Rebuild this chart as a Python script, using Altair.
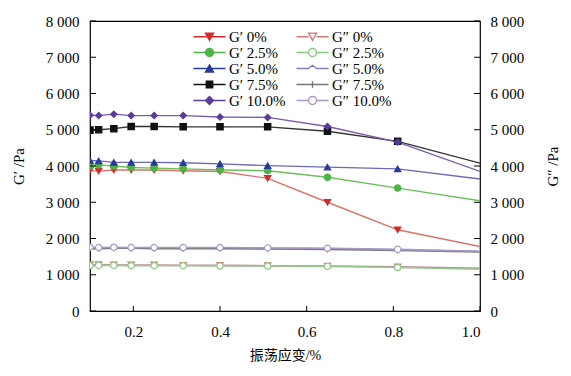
import altair as alt
import pandas as pd

strain = [0.1, 0.12, 0.155, 0.195, 0.248, 0.315, 0.4, 0.51, 0.648, 0.81, 1.0]

gp_0 = [3880, 3860, 3890, 3890, 3890, 3870, 3850, 3660, 3000, 2240, 1780]
gp_25 = [4000, 4030, 4000, 3960, 3940, 3920, 3890, 3870, 3690, 3390, 3040]
gp_50 = [4150, 4140, 4100, 4100, 4100, 4090, 4060, 4010, 3970, 3920, 3640]
gp_75 = [4990, 5000, 5030, 5090, 5090, 5080, 5080, 5080, 4960, 4680, 4080]
gp_100 = [5400, 5390, 5430, 5390, 5390, 5390, 5350, 5340, 5090, 4660, 3850]

gpp_0 = [1280, 1280, 1270, 1270, 1270, 1260, 1260, 1250, 1240, 1220, 1180]
gpp_25 = [1250, 1260, 1260, 1250, 1250, 1250, 1240, 1240, 1230, 1200, 1150]
gpp_50 = [1740, 1740, 1740, 1740, 1740, 1740, 1740, 1730, 1720, 1690, 1640]
gpp_75 = [1720, 1720, 1730, 1730, 1720, 1720, 1720, 1710, 1700, 1670, 1630]
gpp_100 = [1760, 1750, 1760, 1750, 1750, 1750, 1750, 1740, 1730, 1700, 1650]

gp_names = ["G′ 0%", "G′ 2.5%", "G′ 5.0%", "G′ 7.5%", "G′ 10.0%"]
gpp_names = ["G″ 0%", "G″ 2.5%", "G″ 5.0%", "G″ 7.5%", "G″ 10.0%"]

y_ticks = [0, 1000, 2000, 3000, 4000, 5000, 6000, 7000, 8000]
x_ticks = [0.2, 0.4, 0.6, 0.8, 1.0]

# legend fills column by column
order = gp_names + gpp_names

line_col = {
    "G′ 0%": "#e07068", "G″ 0%": "#b88a98",
    "G′ 2.5%": "#6cc05c", "G″ 2.5%": "#98c890",
    "G′ 5.0%": "#6a6ab8", "G″ 5.0%": "#8a86b8",
    "G′ 7.5%": "#333333", "G″ 7.5%": "#7a7a7a",
    "G′ 10.0%": "#7a5cb0", "G″ 10.0%": "#a898c8",
}
mark_col = {
    "G′ 0%": "#d42a2a", "G″ 0%": "#d07a7a",
    "G′ 2.5%": "#4cb444", "G″ 2.5%": "#8cc884",
    "G′ 5.0%": "#2a3a9a", "G″ 5.0%": "#8080c0",
    "G′ 7.5%": "#111111", "G″ 7.5%": "#777777",
    "G′ 10.0%": "#5a3c9c", "G″ 10.0%": "#a898cc",
}
fill_col = {k: (mark_col[k] if k.startswith("G′") else "#ffffff") for k in order}
chart_shape = {
    "G′ 0%": "triangle-down", "G″ 0%": "triangle-down",
    "G′ 2.5%": "circle", "G″ 2.5%": "circle",
    "G′ 5.0%": "triangle-up", "G″ 5.0%": "M-1,0.5L0,-0.7L1,0.5",
    "G′ 7.5%": "square", "G″ 7.5%": "M0,-1V1",
    "G′ 10.0%": "diamond", "G″ 10.0%": "circle",
}
full = "M-4,0H4"
split = "M-4,0H-1M1,0H4"
legend_shape = {
    "G′ 0%": full + "M-1,-0.9L1,-0.9L0,0.9Z",
    "G″ 0%": split + "M-1,-0.9L1,-0.9L0,0.9Z",
    "G′ 2.5%": full + "M-1,0A1,1 0 1,0 1,0A1,1 0 1,0 -1,0Z",
    "G″ 2.5%": split + "M-1,0A1,1 0 1,0 1,0A1,1 0 1,0 -1,0Z",
    "G′ 5.0%": full + "M-1,0.9L1,0.9L0,-0.9Z",
    "G″ 5.0%": "M-4,0H-1L0,-0.8L1,0H4",
    "G′ 7.5%": full + "M-0.8,-0.8H0.8V0.8H-0.8Z",
    "G″ 7.5%": "M-4,0H4M0,-0.8V0.8",
    "G′ 10.0%": full + "M0,-1L1,0L0,1L-1,0Z",
    "G″ 10.0%": split + "M-1,0A1,1 0 1,0 1,0A1,1 0 1,0 -1,0Z",
}

rows = []
for name, vals in zip(gp_names + gpp_names,
                      [gp_0, gp_25, gp_50, gp_75, gp_100, gpp_0, gpp_25, gpp_50, gpp_75, gpp_100]):
    for s, v in zip(strain, vals):
        rows.append({"strain": s, "value": v, "series": name,
                     "kind": "Gp" if name.startswith("G′") else "Gpp"})
df = pd.DataFrame(rows)
df_y = pd.DataFrame({"t": y_ticks})
df_x = pd.DataFrame({"t": x_ticks})

LABEL_FONT = "Liberation Serif"
xs = alt.Scale(domain=[0.1, 1.0], nice=False, zero=False)
ys = alt.Scale(domain=[0, 8000], nice=False)
num_expr = "replace(format(datum.value, ','), ',', ' ')"

def sc(d):
    return alt.Scale(domain=order, range=[d[k] for k in order])

base = alt.Chart(df)

left_axis = alt.Axis(orient="left", values=y_ticks, labelExpr=num_expr, ticks=False, domain=False,
                     grid=False, labelPadding=11, labelFont=LABEL_FONT, labelFontSize=15,
                     labelColor="#000", title="G′ /Pa", titleFont=LABEL_FONT, titleFontSize=15,
                     titleFontWeight="normal", titleColor="#000", titleAngle=270, titleX=-72,
                     titleY=145, titleAlign="center", titleBaseline="middle")
right_axis = alt.Axis(orient="right", values=y_ticks, labelExpr=num_expr, ticks=False, domain=False,
                      grid=False, labelPadding=10, labelFont=LABEL_FONT, labelFontSize=15,
                      labelColor="#000", title="G″ /Pa", titleFont=LABEL_FONT, titleFontSize=15,
                      titleFontWeight="normal", titleColor="#000", titleAngle=270, titleX=72,
                      titleY=145, titleAlign="center", titleBaseline="middle")
x_axis = alt.Axis(values=x_ticks, format=".1f", ticks=False, domain=False, grid=False,
                  labelPadding=13, labelFont=LABEL_FONT, labelFontSize=15, labelColor="#000",
                  title="振荡应变/%", titleFont="Liberation Serif, Noto Sans CJK SC",
                  titleFontSize=14, titleFontWeight="normal", titleColor="#000", titlePadding=9)

gp_lines = base.transform_filter("datum.kind == 'Gp'").mark_line(strokeWidth=1.4, clip=True).encode(
    x=alt.X("strain:Q", scale=xs, axis=x_axis),
    y=alt.Y("value:Q", scale=ys, axis=left_axis),
    color=alt.Color("series:N", scale=sc(line_col), legend=None),
)
gpp_lines = base.transform_filter("datum.kind == 'Gpp'").mark_line(strokeWidth=1.6, clip=True).encode(
    x=alt.X("strain:Q", scale=xs, axis=x_axis),
    y=alt.Y("value:Q", scale=ys, axis=right_axis),
    color=alt.Color("series:N", scale=sc(line_col), legend=None),
)
pts = base.transform_filter("datum.strain < 1").mark_point(size=40, strokeWidth=1.2, opacity=1,
                                                             clip=True, filled=False).encode(
    x=alt.X("strain:Q", scale=xs, axis=x_axis),
    y=alt.Y("value:Q", scale=ys, axis=None),
    fill=alt.Fill("series:N", scale=sc(fill_col), legend=None),
    stroke=alt.Stroke("series:N", scale=sc(mark_col), legend=None),
    shape=alt.Shape("series:N", scale=sc(chart_shape), legend=None),
)
leg = base.transform_filter("false").mark_point(filled=False, opacity=1).encode(
    x=alt.X("strain:Q", scale=xs, axis=x_axis),
    y=alt.Y("value:Q", scale=ys, axis=None),
    fill=alt.Fill("series:N", scale=sc(fill_col), legend=alt.Legend(title=None)),
    stroke=alt.Stroke("series:N", scale=sc(mark_col), legend=alt.Legend(title=None)),
    shape=alt.Shape("series:N", scale=sc(legend_shape), legend=alt.Legend(
        title=None, orient="none", legendX=112, legendY=8, columns=2, columnPadding=7,
        rowPadding=-3, symbolSize=64, symbolStrokeWidth=1.4, labelOffset=12,
        labelFont=LABEL_FONT, labelFontSize=15, labelColor="#000", padding=0,
        symbolOpacity=1)),
)
yt_left = alt.Chart(df_y).mark_rule(color="#000", strokeWidth=1).encode(
    y=alt.Y("t:Q", scale=ys, axis=None), x=alt.value(0), x2=alt.value(6))
yt_right = alt.Chart(df_y).mark_rule(color="#000", strokeWidth=1).encode(
    y=alt.Y("t:Q", scale=ys, axis=None), x=alt.value(384), x2=alt.value(390))
xt = alt.Chart(df_x).mark_rule(color="#000", strokeWidth=1).encode(
    x=alt.X("t:Q", scale=xs, axis=x_axis), y=alt.value(285), y2=alt.value(290))

chart = alt.layer(gpp_lines, gp_lines, pts, leg, yt_left, yt_right, xt).resolve_scale(
    y="independent", color="independent", fill="independent", stroke="independent",
    shape="independent",
).properties(
    width=390, height=290,
    autosize=alt.AutoSizeParams(type="none"),
    padding={"left": 90, "top": 21, "right": 91, "bottom": 65},
    background="white",
).configure_view(stroke="#000", strokeWidth=1.2)

chart.save("out.html", embed_options={"renderer": "svg", "actions": False})
